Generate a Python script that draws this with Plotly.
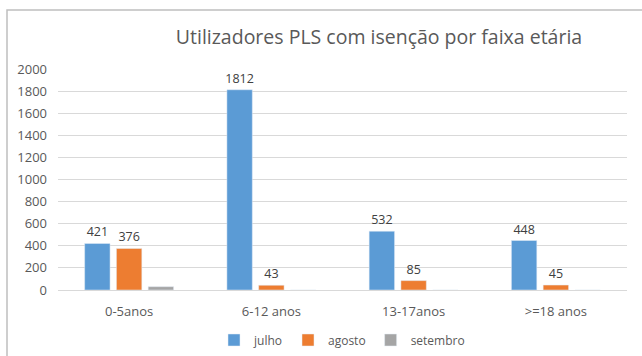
import plotly.graph_objects as go

categorias = ["0-5anos", "6-12 anos", "13-17anos", ">=18 anos"]
julho = [421, 1812, 532, 448]
agosto = [376, 43, 85, 45]
setembro = [30, 0, 0, 0]
y_ticks = list(range(0, 2001, 200))

FONT = "Open Sans"
GREY_TXT = "#595959"
LABEL_FONT = dict(size=12.5, color="#404040", family=FONT)

fig = go.Figure()
fig.add_trace(go.Bar(name="julho", x=categorias, y=julho, marker_color="#5b9bd5",
                     text=julho, textposition="outside", cliponaxis=False,
                     constraintext="none", textfont=LABEL_FONT))
fig.add_trace(go.Bar(name="agosto", x=categorias, y=agosto, marker_color="#ed7d31",
                     text=agosto, textposition="outside", cliponaxis=False,
                     constraintext="none", textfont=LABEL_FONT))
fig.add_trace(go.Bar(name="setembro", x=categorias, y=setembro, marker_color="#a5a5a5"))

L, R, T, B = 58, 15, 69, 66
W, H = 642, 356
pw, ph = W - L - R, H - T - B

fig.update_layout(
    width=W, height=H,
    margin=dict(l=L, r=R, t=T, b=B, autoexpand=False),
    paper_bgcolor="white", plot_bgcolor="white",
    barmode="group", bargap=0.33, bargroupgap=0.2,
    font=dict(family=FONT, color=GREY_TXT, size=12),
    title=dict(text="Utilizadores PLS com isenção por faixa etária",
               x=379 / W, xanchor="center", y=1 - 37 / H, yanchor="middle",
               font=dict(size=19.5, color=GREY_TXT, family=FONT)),
    xaxis=dict(showline=True, linecolor="#d9d9d9", linewidth=1, ticks="",
               ticklabelstandoff=9, tickfont=dict(size=13, color=GREY_TXT)),
    yaxis=dict(range=[0, 2000], tickvals=y_ticks, showgrid=True, gridcolor="#d9d9d9",
               zeroline=False, ticks="", ticklabelstandoff=10,
               tickfont=dict(size=13, color=GREY_TXT)),
    legend=dict(orientation="h", x=(214 - L) / pw, xanchor="left", y=(290 - 340) / ph,
                yanchor="middle", font=dict(size=12, color=GREY_TXT),
                itemwidth=30, tracegroupgap=0),
    showlegend=True,
)

# chart frame border (top and left edges visible)
fig.add_shape(type="rect", xref="paper", yref="paper",
              x0=(7 - L) / pw, x1=1.2, y0=-0.6, y1=(290 - 10) / ph,
              line=dict(color="#bfbfbf", width=1.5), fillcolor="rgba(0,0,0,0)", layer="below")

fig.write_html("out.html")
